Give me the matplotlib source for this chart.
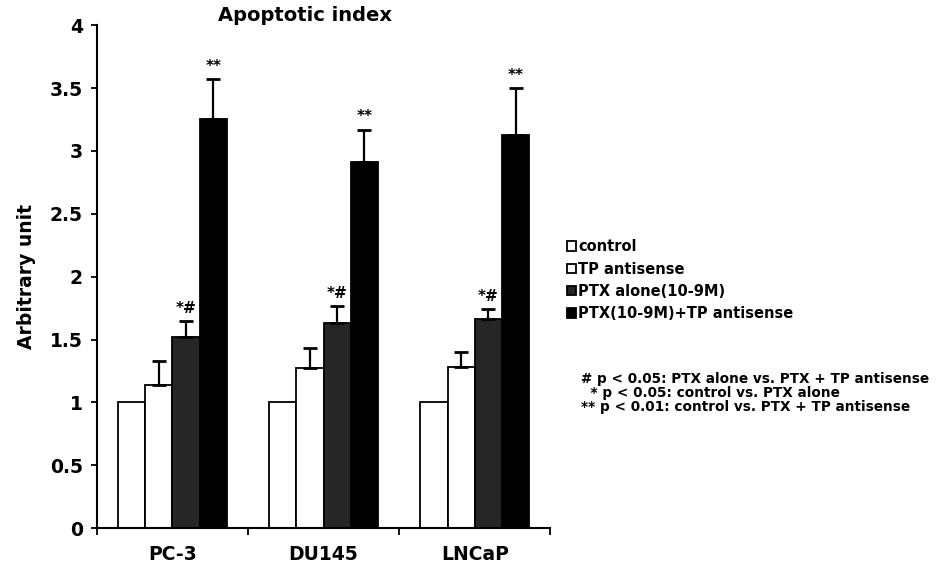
import matplotlib.pyplot as plt
import numpy as np

cell_lines = ["PC-3", "DU145", "LNCaP"]
groups = ["control", "TP antisense", "PTX alone(10-9M)", "PTX(10-9M)+TP antisense"]
values = {
    "control": [1.0, 1.0, 1.0],
    "TP antisense": [1.14, 1.27, 1.28],
    "PTX alone(10-9M)": [1.52, 1.63, 1.66],
    "PTX(10-9M)+TP antisense": [3.25, 2.91, 3.13],
}
errors = {
    "control": [0.0, 0.0, 0.0],
    "TP antisense": [0.19, 0.16, 0.12],
    "PTX alone(10-9M)": [0.13, 0.14, 0.08],
    "PTX(10-9M)+TP antisense": [0.32, 0.26, 0.37],
}
marks = {
    "PTX alone(10-9M)": "*#",
    "PTX(10-9M)+TP antisense": "**",
}
notes = [
    "# p < 0.05: PTX alone vs. PTX + TP antisense",
    "  * p < 0.05: control vs. PTX alone",
    "** p < 0.01: control vs. PTX + TP antisense",
]
colors = ["white", "white", "#262626", "black"]

plt.rcParams["font.family"] = "DejaVu Sans"
plt.rcParams["font.weight"] = "bold"

fig = plt.figure(figsize=(9.49, 5.71), dpi=100)
ax = fig.add_axes([0.102, 0.075, 0.478, 0.881])

x = np.arange(len(cell_lines)) + 0.5
width = 0.18
for i, (name, color) in enumerate(zip(groups, colors)):
    pos = x + (i - 1.5) * width
    vals = np.array(values[name])
    errs = np.array(errors[name])
    ax.bar(pos, vals, width, color=color, edgecolor="black", linewidth=1.3, label=name, zorder=2)
    if errs.any():
        ax.errorbar(pos, vals, yerr=[np.zeros_like(errs), errs], fmt="none", ecolor="black",
                    elinewidth=1.6, capsize=5, capthick=2, zorder=3)
    if name in marks:
        for p, v, e in zip(pos, vals, errs):
            ax.text(p, v + e + 0.04, marks[name], ha="center", va="bottom", fontsize=11, fontweight="bold")

ax.set_xlim(0, 3)
ax.set_ylim(0, 4)
ax.set_yticks(np.arange(0, 4.01, 0.5))
ax.set_yticklabels(["0", "0.5", "1", "1.5", "2", "2.5", "3", "3.5", "4"])
ax.set_xticks([0, 1, 2, 3])
ax.set_xticklabels([])
ax.set_xticks(x, minor=True)
ax.set_xticklabels(cell_lines, minor=True)
ax.tick_params(axis="x", which="minor", length=0, pad=12, labelsize=13.5)
ax.tick_params(axis="x", which="major", length=5, width=1.3)
ax.tick_params(axis="y", length=4, width=1.3, labelsize=13.5, pad=6)
ax.spines[["top", "right"]].set_visible(False)
ax.spines[["left", "bottom"]].set_linewidth(1.5)
ax.set_ylabel("Arbitrary unit", fontsize=13.5, fontweight="bold", labelpad=10)
ax.set_title("Apoptotic index", fontsize=14, fontweight="bold", x=0.46, pad=2)

ax.legend(loc="upper left", bbox_to_anchor=(1.024, 0.586), frameon=False, fontsize=10.5,
          handlelength=0.6, handleheight=0.6, handletextpad=0.15, labelspacing=0.5,
          borderaxespad=0)
fig.text(0.612, 0.348, "\n".join(notes), fontsize=9.8, fontweight="bold", va="top", ha="left",
         linespacing=1.0)

fig.savefig("out.png", dpi=100)
